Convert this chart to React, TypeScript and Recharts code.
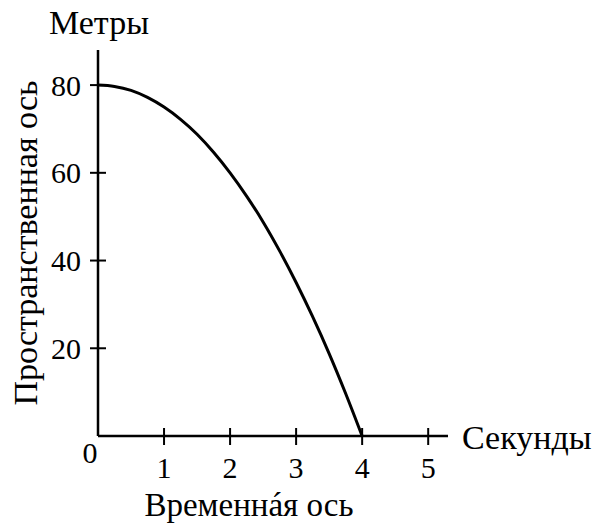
import React from "react";
import { LineChart, Line, XAxis, YAxis, Label } from "recharts";

const seconds = [0, 0.25, 0.5, 0.75, 1, 1.25, 1.5, 1.75, 2, 2.25, 2.5, 2.75, 3, 3.25, 3.5, 3.75, 4];
const meters = [80, 79.7, 78.8, 77.2, 75, 72.2, 68.8, 64.7, 60, 54.7, 48.8, 42.2, 35, 27.2, 18.8, 9.7, 0];
const xTicks = [0, 1, 2, 3, 4, 5];
const yTicks = [20, 40, 60, 80];

const data = seconds.map((t, i) => ({ t, h: meters[i] }));

const FONT = "'Liberation Serif', 'Times New Roman', serif";
const FS = 30;
const TS = 34;

const YTick = (props: any) => {
  const { x, y, payload } = props;
  return (
    <g>
      <line x1={x - 8} x2={x + 8} y1={y} y2={y} stroke="#000" strokeWidth={2} />
      <text x={x - 17} y={y} textAnchor="end" dominantBaseline="central" fontFamily={FONT} fontSize={FS} fill="#000">
        {payload.value}
      </text>
    </g>
  );
};

const XTick = (props: any) => {
  const { x, y, payload } = props;
  if (payload.value === 0) {
    return (
      <text x={x - 8} y={y + 16} textAnchor="middle" dominantBaseline="central" fontFamily={FONT} fontSize={FS} fill="#000">
        0
      </text>
    );
  }
  return (
    <g>
      <line x1={x} x2={x} y1={y - 8} y2={y + 9} stroke="#000" strokeWidth={2} />
      <text x={x} y={y + 31} textAnchor="middle" dominantBaseline="central" fontFamily={FONT} fontSize={FS} fill="#000">
        {payload.value}
      </text>
    </g>
  );
};

export default function App() {
  return (
    <div style={{ position: "absolute", left: 0, top: 0, background: "#fff" }}>
      <LineChart width={600} height={526} data={data} margin={{ top: 50, right: 152, bottom: 50, left: 38 }}>
        <XAxis
          dataKey="t"
          type="number"
          domain={[0, 5.3]}
          ticks={xTicks}
          interval={0}
          height={40}
          tickSize={0}
          tickMargin={0}
          tickLine={false}
          tick={<XTick />}
          axisLine={{ stroke: "#000", strokeWidth: 2.5 }}
          allowDataOverflow
        >
          <Label
            content={(p: any) => {
              const vb = p.viewBox;
              return (
                <text x={vb.x + vb.width + 14} y={vb.y + 1} textAnchor="start" dominantBaseline="central" fontFamily={FONT} fontSize={TS} fill="#000">
                  Секунды
                </text>
              );
            }}
          />
          <Label
            content={(p: any) => {
              const vb = p.viewBox;
              return (
                <text x={vb.x + 151} y={vb.y + 69} textAnchor="middle" dominantBaseline="central" fontFamily={FONT} fontSize={33} fill="#000">
                  Временнáя ось
                </text>
              );
            }}
          />
        </XAxis>
        <YAxis
          type="number"
          domain={[0, 88]}
          ticks={yTicks}
          interval={0}
          width={60}
          tickSize={0}
          tickMargin={0}
          tickLine={false}
          tick={<YTick />}
          axisLine={{ stroke: "#000", strokeWidth: 2.5 }}
          allowDataOverflow
        >
          <Label
            content={(p: any) => {
              const vb = p.viewBox;
              return (
                <text x={vb.x + vb.width + 1} y={vb.y - 28} textAnchor="middle" dominantBaseline="central" fontFamily={FONT} fontSize={TS} fill="#000">
                  Метры
                </text>
              );
            }}
          />
          <Label
            content={(p: any) => {
              const vb = p.viewBox;
              const cx = vb.x - 13;
              const cy = vb.y + vb.height / 2;
              return (
                <text x={cx} y={cy} textAnchor="middle" dominantBaseline="central" fontFamily={FONT} fontSize={TS} fill="#000" transform={`rotate(-90, ${cx}, ${cy})`}>
                  Пространственная ось
                </text>
              );
            }}
          />
        </YAxis>
        <Line dataKey="h" type="monotone" stroke="#000" strokeWidth={3} dot={false} isAnimationActive={false} />
      </LineChart>
    </div>
  );
}
